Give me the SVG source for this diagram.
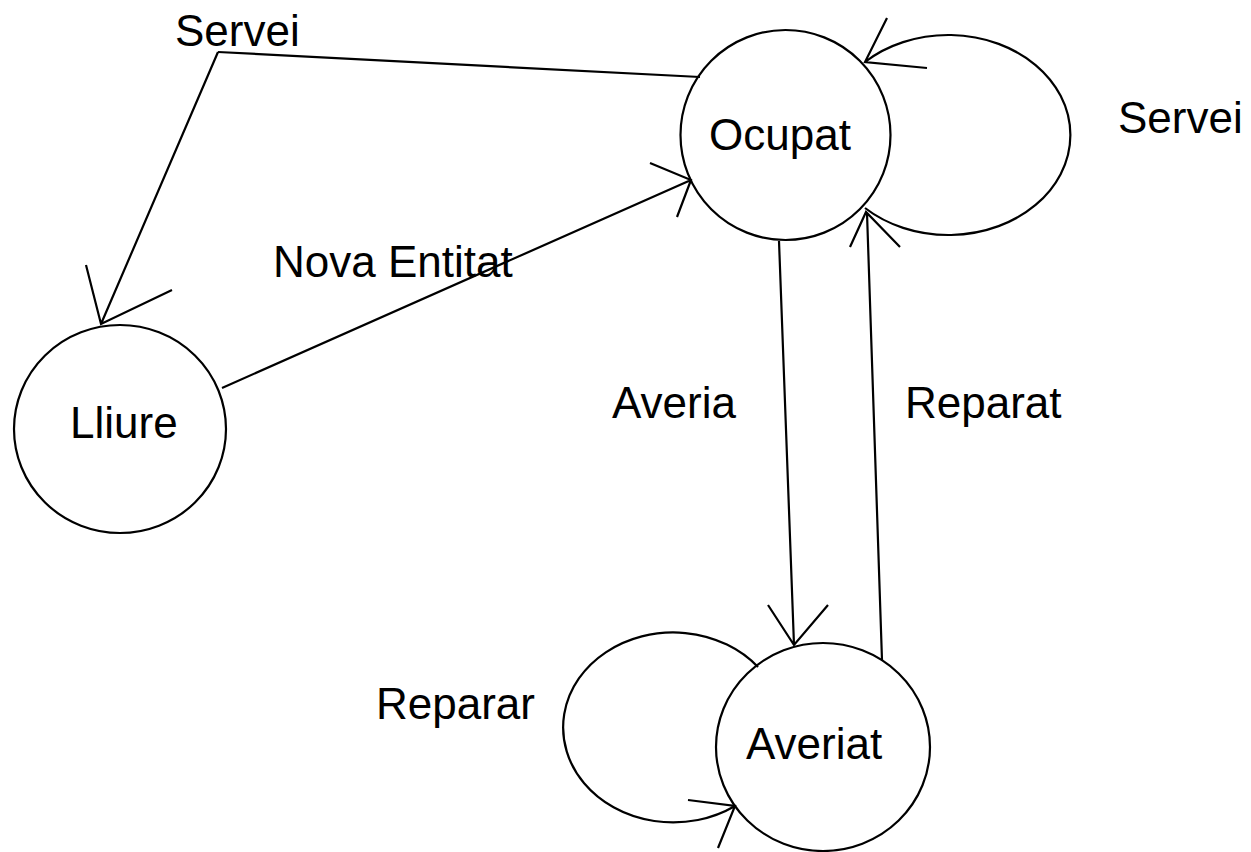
<svg xmlns="http://www.w3.org/2000/svg" width="1251" height="852" viewBox="0 0 1251 852">
<style>
.n{fill:none;stroke:#000;stroke-width:2.2}
.c{fill:none;stroke:#000;stroke-width:2.2}
.t{font-family:"Liberation Sans",Arial,sans-serif;font-size:44px;fill:#000}
</style>
<rect width="1251" height="852" fill="#fff"/>
<g id="connectors">
  <path class="c" d="M218,52 L700,77"/>
  <path class="c" d="M218,52 L101,324 M86,265 L101,324 L172,290"/>
  <path class="c" d="M222,388 L691,180 M650,163 L691,180 L677,217"/>
  <path class="c" d="M865,62 A122,100 0 1 1 865,208 M887,18 L865,62 L927,68"/>
  <path class="c" d="M779,241 L794,645 M768,605 L794,645 L828,605"/>
  <path class="c" d="M882,660 L867,213 M850,247 L866,212 L900,247"/>
  <path class="c" d="M758,667 A110,95 0 1 0 735,806 M688,800 L735,806 L718,848"/>
  <text class="t" x="175" y="46">Servei</text>
  <text class="t" x="273" y="277">Nova Entitat</text>
  <text class="t" x="1118" y="133">Servei</text>
  <text class="t" x="612" y="418">Averia</text>
  <text class="t" x="905" y="418">Reparat</text>
  <text class="t" x="376" y="719">Reparar</text>
</g>
<g id="lliure">
  <ellipse class="n" cx="120" cy="429" rx="106" ry="104"/>
  <text class="t" x="70" y="438">Lliure</text>
</g>
<g id="ocupat">
  <circle class="n" cx="785.5" cy="135" r="105"/>
  <text class="t" x="709" y="150">Ocupat</text>
</g>
<g id="averiat">
  <ellipse class="n" cx="823" cy="747" rx="107" ry="104"/>
  <text class="t" x="746" y="759">Averiat</text>
</g>
</svg>
